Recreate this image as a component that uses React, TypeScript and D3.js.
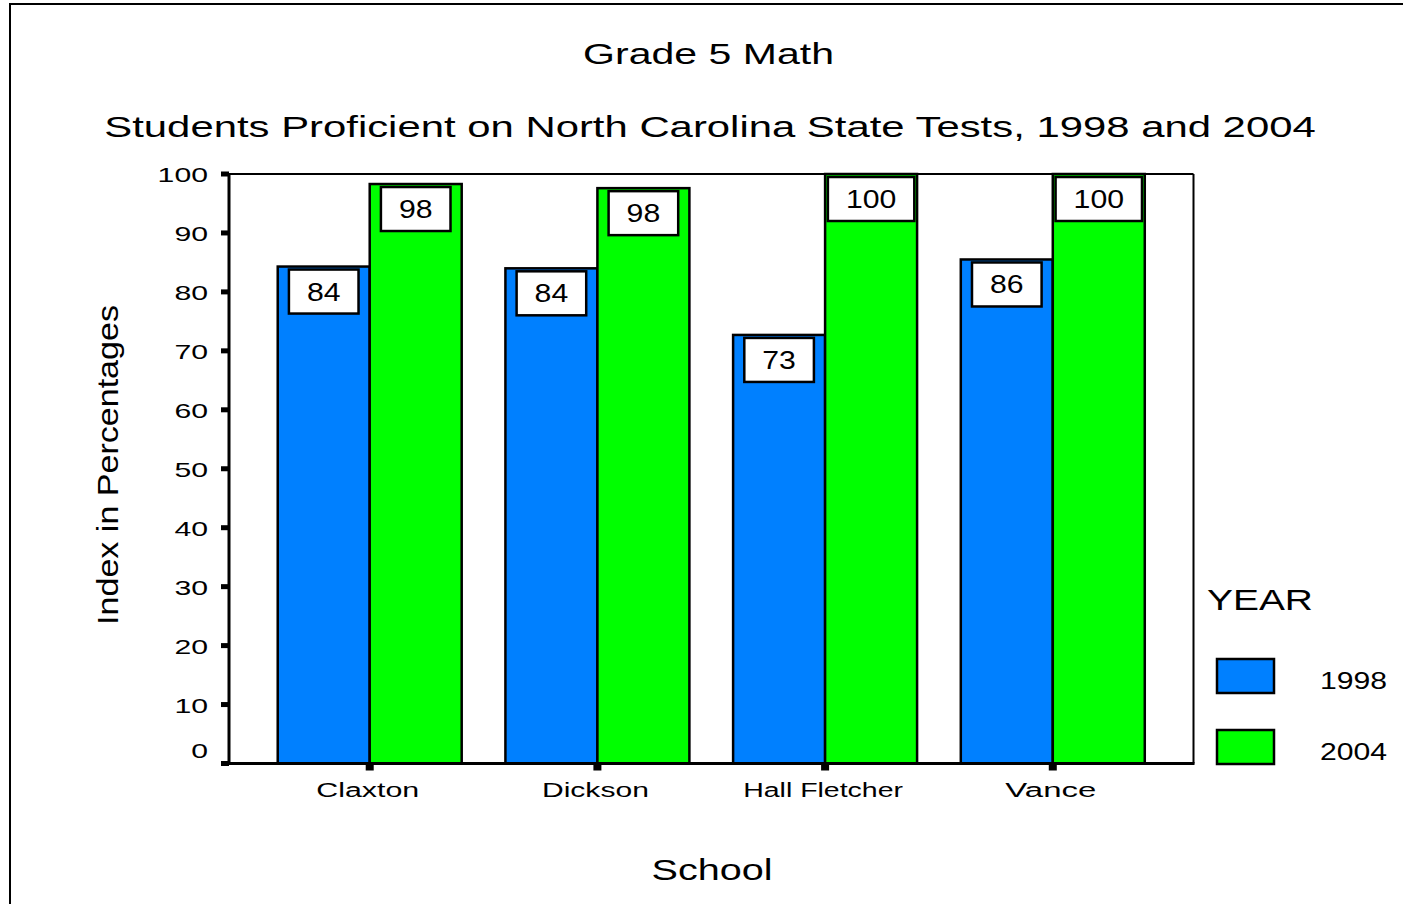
import React, { useLayoutEffect, useRef, useState } from "react";
import * as d3 from "d3";

const schools = ["Claxton", "Dickson", "Hall Fletcher", "Vance"];
const years = ["1998", "2004"];
const values1998 = [84.3, 84.0, 72.7, 85.5];
const values2004 = [98.3, 97.6, 100, 100];
const yTicks = [0, 10, 20, 30, 40, 50, 60, 70, 80, 90, 100];
const colors = ["#0080ff", "#00ff00"];

const FONT = "'Liberation Sans', Arial, Helvetica, sans-serif";

function T(props: any) {
  const { x, y, anchor = "start", size, len, children, rotate = 0 } = props;
  const ref = useRef<SVGTextElement>(null);
  const [sx, setSx] = useState(1);
  useLayoutEffect(() => {
    if (ref.current) {
      const w = ref.current.getComputedTextLength();
      if (w > 0) setSx(len / w);
    }
  }, [len, children]);
  return (
    <text
      ref={ref}
      x={0}
      y={0}
      textAnchor={anchor}
      fontSize={size}
      fontFamily={FONT}
      fill="#000"
      transform={`translate(${x},${y}) rotate(${rotate}) scale(${sx},1)`}
    >
      {children}
    </text>
  );
}

export default function App() {
  const W = 1403;
  const H = 904;
  const left = 229;
  const right = 1193.5;
  const top = 174;
  const bottom = 763.5;

  const x0 = d3
    .scaleBand<string>()
    .domain(schools)
    .range([left, right])
    .paddingInner(0.192)
    .paddingOuter(0.214);
  const x1 = d3.scaleBand<string>().domain(years).range([0, x0.bandwidth()]);
  const y = d3.scaleLinear().domain([0, 100]).range([bottom, top]);

  const series = [values1998, values2004];
  const digitW = 16.8;

  const widths: Record<string, number> = {
    Claxton: 103,
    Dickson: 107,
    "Hall Fletcher": 160,
    Vance: 91,
  };

  return (
    <svg
      width={W}
      height={H}
      style={{ position: "absolute", left: 0, top: 0, background: "#fff" }}
    >
      <rect x={0} y={0} width={W} height={H} fill="#fff" />
      {/* outer frame */}
      <rect x={10} y={4} width={1500} height={1000} fill="none" stroke="#000" strokeWidth={2} />

      {/* titles */}
      <T x={708.5} y={64} anchor="middle" size={30} len={251}>Grade 5 Math</T>
      <T x={710} y={137} anchor="middle" size={30} len={1212}>
        Students Proficient on North Carolina State Tests, 1998 and 2004
      </T>

      {/* bars */}
      {schools.map((s, i) => (
        <g key={s}>
          {years.map((yr, j) => {
            const v = series[j][i];
            const bx = x0(s)! + x1(yr)!;
            const bw = x1.bandwidth();
            const by = y(v);
            const label = String(Math.round(v));
            const tw = label.length * digitW;
            const boxW = tw + 36;
            const boxH = 44;
            const cx = bx + bw / 2;
            const boxY = by + 3;
            return (
              <g key={yr}>
                <rect
                  x={bx}
                  y={by}
                  width={bw}
                  height={y(0) - by}
                  fill={colors[j]}
                  stroke="#000"
                  strokeWidth={2.5}
                />
                <rect
                  x={cx - boxW / 2}
                  y={boxY}
                  width={boxW}
                  height={boxH}
                  fill="#fff"
                  stroke="#000"
                  strokeWidth={2.5}
                />
                <T x={cx} y={boxY + boxH / 2 + 9} anchor="middle" size={25} len={tw}>
                  {label}
                </T>
              </g>
            );
          })}
        </g>
      ))}

      {/* plot frame */}
      <line x1={left} x2={right} y1={top} y2={top} stroke="#000" strokeWidth={2} />
      <line x1={right} x2={right} y1={top} y2={bottom} stroke="#000" strokeWidth={2} />
      <line x1={left} x2={left} y1={top - 1} y2={bottom + 1.5} stroke="#000" strokeWidth={3} />
      <line x1={left - 1.5} x2={right + 1} y1={bottom} y2={bottom} stroke="#000" strokeWidth={3} />

      {/* y ticks */}
      {yTicks.map((t) => (
        <g key={t}>
          <rect x={221} y={y(t) - 2.5} width={8} height={5} fill="#000" />
          <T
            x={208}
            y={y(t) + 8 - (t === 0 ? 14 : 0)}
            anchor="end"
            size={21}
            len={String(t).length * digitW}
          >
            {String(t)}
          </T>
        </g>
      ))}

      {/* x ticks */}
      {schools.map((s) => {
        const cx = x0(s)! + x0.bandwidth() / 2;
        return (
          <g key={s}>
            <rect x={cx - 4} y={bottom} width={8} height={7} fill="#000" />
            <T x={cx - 2} y={797} anchor="middle" size={21} len={widths[s]}>
              {s}
            </T>
          </g>
        );
      })}

      {/* axis titles */}
      <T x={712} y={880} anchor="middle" size={30} len={121}>School</T>
      <T x={118} y={465} anchor="middle" size={30} len={320} rotate={-90}>
        Index in Percentages
      </T>

      {/* legend */}
      <T x={1207} y={610} size={30} len={106}>YEAR</T>
      {years.map((yr, j) => {
        const ly = [659, 730][j];
        return (
          <g key={yr}>
            <rect x={1217} y={ly} width={57} height={34} fill={colors[j]} stroke="#000" strokeWidth={2.5} />
            <T x={1320} y={ly + 30} size={24} len={67}>
              {yr}
            </T>
          </g>
        );
      })}
    </svg>
  );
}
